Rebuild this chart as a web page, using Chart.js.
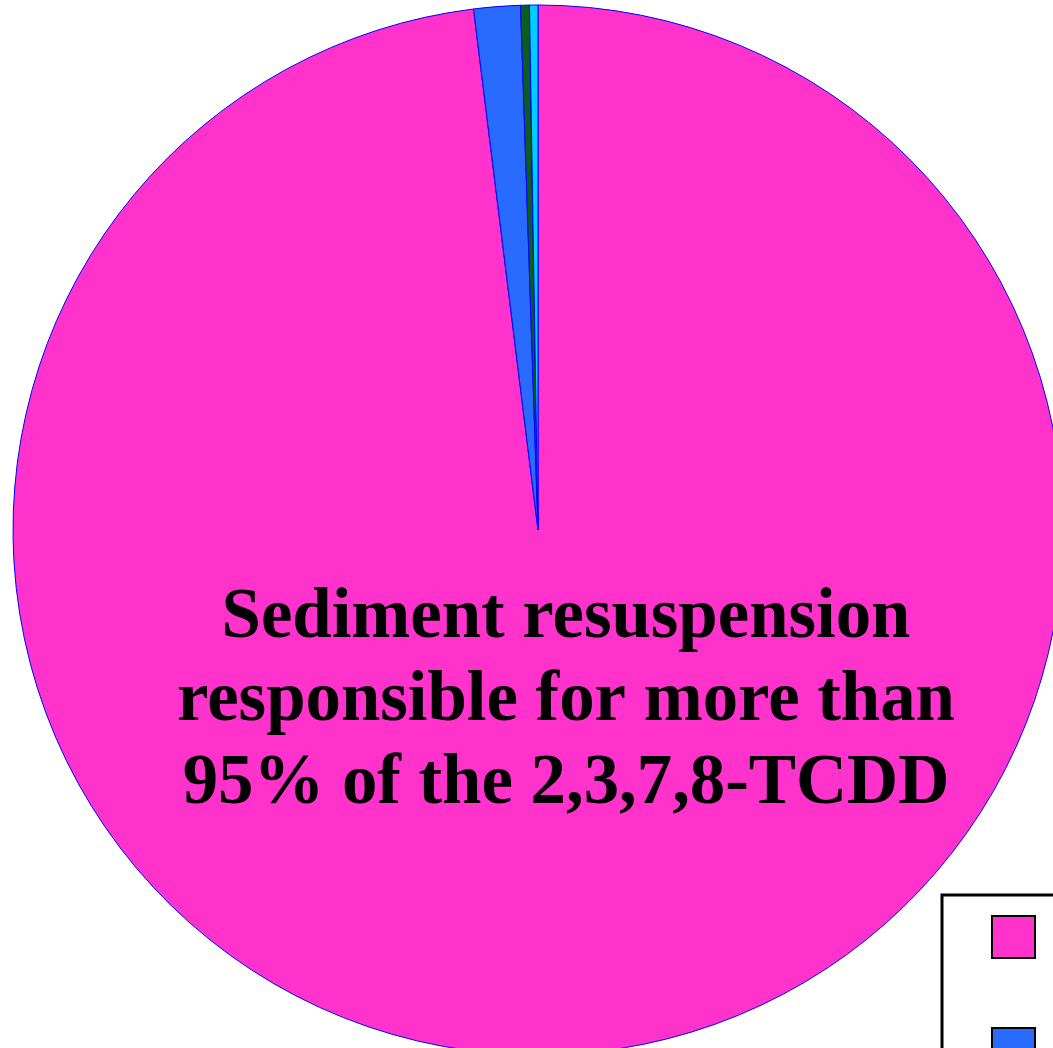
<!DOCTYPE html>
<html>
<head>
<meta charset="utf-8">
<title>2,3,7,8-TCDD sources</title>
<script src="https://cdn.jsdelivr.net/npm/chart.js@4"></script>
<style>
  html, body { margin: 0; padding: 0; background: #ffffff; overflow: hidden; }
  #wrap { position: relative; width: 1053px; height: 1048px; }
</style>
</head>
<body>
<div id="wrap"><canvas id="pie" width="1053" height="1048"></canvas></div>
<script>
// Share of the 2,3,7,8-TCDD load by source (percent)
const sources = ['Sediment resuspension', 'Tributaries', 'Atmospheric deposition', 'Point sources'];
const shares = [98.04, 1.43, 0.27, 0.26];
const sliceColors = ['#FF33CC', '#2A6BFF', '#0B5E1E', '#00CCFF'];
const noteLines = ['Sediment resuspension', 'responsible for more than', '95% of the 2,3,7,8-TCDD'];

// Centred annotation over the large slice
const notePlugin = {
  id: 'note',
  afterDatasetsDraw(chart) {
    const ctx = chart.ctx;
    ctx.save();
    ctx.fillStyle = '#000000';
    ctx.font = 'bold 72px "Liberation Serif", "Times New Roman", serif';
    ctx.textAlign = 'center';
    ctx.textBaseline = 'alphabetic';
    const x = 566;
    const baselines = [637, 720, 803];
    // slightly condensed lettering
    ctx.translate(x, 0);
    ctx.scale(0.983, 1);
    noteLines.forEach((t, i) => ctx.fillText(t, 0, baselines[i]));
    ctx.restore();
  }
};

// Boxed legend in the lower right corner
const boxLegend = {
  id: 'boxLegend',
  afterDraw(chart) {
    const ctx = chart.ctx;
    const ds = chart.data.datasets[0];
    ctx.save();
    ctx.fillStyle = '#ffffff';
    ctx.strokeStyle = '#000000';
    ctx.lineWidth = 3;
    ctx.fillRect(942, 895, 400, 500);
    ctx.strokeRect(942, 895, 400, 500);
    ctx.lineWidth = 2;
    ctx.font = 'bold 40px "Liberation Serif", serif';
    ctx.textBaseline = 'middle';
    chart.data.labels.forEach((lab, i) => {
      const y = 916 + i * 112;
      ctx.fillStyle = ds.backgroundColor[i];
      ctx.fillRect(992, y, 43, 42);
      ctx.strokeRect(992, y, 43, 42);
      ctx.fillStyle = '#000000';
      ctx.fillText(lab, 1060, y + 21);
    });
    ctx.restore();
  }
};

new Chart(document.getElementById('pie'), {
  type: 'pie',
  data: {
    labels: sources,
    datasets: [{
      data: shares,
      backgroundColor: sliceColors,
      borderColor: '#0000FF',
      borderWidth: 1,
      clip: false
    }]
  },
  options: {
    responsive: false,
    animation: false,
    radius: 525,
    layout: { padding: { left: 23, right: 0, top: 12, bottom: 0 } },
    plugins: {
      legend: { display: false },
      tooltip: { enabled: false },
      title: { display: false }
    }
  },
  plugins: [notePlugin, boxLegend]
});
</script>
</body>
</html>
